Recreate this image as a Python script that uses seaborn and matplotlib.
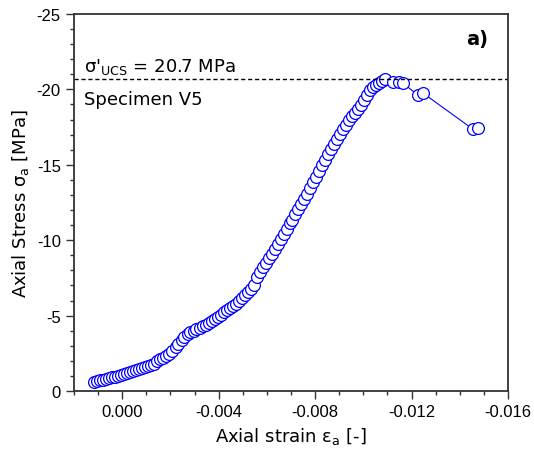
import matplotlib
matplotlib.use("Agg")
import matplotlib.pyplot as plt
import seaborn as sns
from matplotlib.ticker import MultipleLocator

# ---- data (strain [-], stress [MPa]) ----
strain = [
    0.00117, 0.00104, 0.00092, 0.00079, 0.00067, 0.00054, 0.00042, 0.00029,
    0.00017, 0.00004, -0.00008, -0.00021, -0.00033, -0.00046, -0.00058,
    -0.00071, -0.00083, -0.00096, -0.00108, -0.00121, -0.00133, -0.00146,
    -0.00158, -0.00171, -0.00183, -0.00196, -0.00208, -0.00221, -0.00233,
    -0.00246, -0.00258, -0.00271, -0.00283, -0.00296, -0.00308, -0.00321,
    -0.00333, -0.00346, -0.00358, -0.00371, -0.00383, -0.00396, -0.00408,
    -0.00421, -0.00433, -0.00446, -0.00458, -0.00471, -0.00483, -0.00496,
    -0.00508, -0.00521, -0.00533, -0.00546,
    -0.00558, -0.00571, -0.00583, -0.00596, -0.00608, -0.00621, -0.00633,
    -0.00646, -0.00658, -0.00671, -0.00683, -0.00696, -0.00704,
    -0.00717, -0.00729, -0.00742, -0.00754, -0.00767, -0.00779, -0.00792,
    -0.00804, -0.00817, -0.00829, -0.00842, -0.00854, -0.00867, -0.00879,
    -0.00892, -0.00904,
    -0.00917, -0.00929, -0.00942, -0.00954, -0.00967, -0.00979, -0.00992,
    -0.01004, -0.01017, -0.01029, -0.01042, -0.01054, -0.01067, -0.01079,
    -0.01088,
    -0.01125, -0.01150, -0.01163, -0.01225, -0.01246, -0.01454, -0.01475,
]
stress = [
    -0.60, -0.63, -0.70, -0.73, -0.80, -0.86, -0.93, -0.96,
    -0.99, -1.06, -1.13, -1.19, -1.26, -1.33, -1.39,
    -1.46, -1.53, -1.59, -1.66, -1.72, -1.82, -1.96,
    -2.09, -2.19, -2.32, -2.45, -2.65, -2.89, -3.12,
    -3.38, -3.61, -3.75, -3.88, -3.98, -4.08, -4.18,
    -4.29, -4.40, -4.51, -4.64, -4.77, -4.91, -5.04,
    -5.21, -5.34, -5.48, -5.64, -5.77, -5.97, -6.17,
    -6.37, -6.56, -6.76, -7.06,
    -7.56, -7.89, -8.22, -8.49, -8.82, -9.08, -9.42,
    -9.75, -10.08, -10.41, -10.74, -11.14, -11.34,
    -11.74, -12.07, -12.40, -12.73, -13.06, -13.46, -13.86,
    -14.19, -14.59, -14.99, -15.32, -15.72, -16.05, -16.38,
    -16.71, -17.04,
    -17.37, -17.67, -17.97, -18.24, -18.44, -18.70, -18.97,
    -19.30, -19.63, -19.96, -20.16, -20.29, -20.42, -20.56,
    -20.70,
    -20.49, -20.49, -20.43, -19.64, -19.77, -17.37, -17.44,
]
ucs = -20.7
xticks = [0.000, -0.004, -0.008, -0.012, -0.016]
xtick_labels = ["0.000", "-0.004", "-0.008", "-0.012", "-0.016"]
yticks = [0, -5, -10, -15, -20, -25]
ytick_labels = ["0", "-5", "-10", "-15", "-20", "-25"]

# ---- style ----
sns.set_style("ticks")
plt.rcParams["font.family"] = ["DejaVu Sans"]
plt.rcParams["mathtext.default"] = "regular"
plt.rcParams["axes.unicode_minus"] = False
plt.rcParams["text.color"] = "black"
plt.rcParams["axes.labelcolor"] = "black"

fig = plt.figure(figsize=(5.34, 4.56), dpi=100)
ax = fig.add_axes([0.1386, 0.1404, 0.8127, 0.8267])

sns.lineplot(x=strain, y=stress, sort=False, estimator=None, ax=ax,
             color="blue", linewidth=0.8, marker="o", markersize=8.5,
             markerfacecolor="white", markeredgecolor="blue",
             markeredgewidth=0.9)

ax.axhline(ucs, color="black", linestyle=(0, (3, 2)), linewidth=1)

ax.set_xlim(0.002, -0.016)
ax.set_ylim(0, -25)
ax.set_xticks(xticks)
ax.set_xticklabels(xtick_labels, fontfamily="Liberation Sans", fontsize=12)
ax.set_yticks(yticks)
ax.set_yticklabels(ytick_labels, fontfamily="Liberation Sans", fontsize=12)
ax.xaxis.set_minor_locator(MultipleLocator(0.001))
ax.yaxis.set_minor_locator(MultipleLocator(1))
ax.tick_params(which="major", length=6, width=1, color="#333333",
               labelcolor="black", direction="out")
ax.tick_params(which="minor", length=3, width=1, color="#333333",
               direction="out")
for s in ax.spines.values():
    s.set_linewidth(1.3)
    s.set_color("#333333")

ax.set_xlabel("Axial strain ε$_a$ [-]", fontsize=13)
ax.set_ylabel("Axial Stress σ$_a$ [MPa]", fontsize=13)

ax.text(0.023, 0.85, "σ'$_{UCS}$ = 20.7 MPa", transform=ax.transAxes, fontsize=13)
ax.text(0.023, 0.76, "Specimen V5", transform=ax.transAxes, fontsize=13)
ax.text(0.955, 0.92, "a)", transform=ax.transAxes, fontsize=14,
        fontweight="bold", ha="right")

fig.savefig("out.png", dpi=100)
